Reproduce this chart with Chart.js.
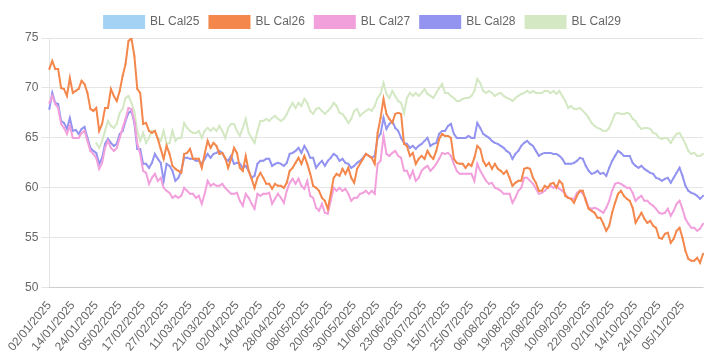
<!DOCTYPE html>
<html>
<head>
<meta charset="utf-8">
<title>BL Cal</title>
<script src="https://cdn.jsdelivr.net/npm/chart.js@4"></script>
<style>
  html, body { margin: 0; padding: 0; background: #fff; }
  #wrap { width: 718px; height: 360px; }
</style>
</head>
<body>
<div id="wrap"><canvas id="chart" width="718" height="360"></canvas></div>
<script>
const labels = (
  "02/01/2025 03/01/2025 06/01/2025 07/01/2025 08/01/2025 09/01/2025 10/01/2025 13/01/2025 14/01/2025 15/01/2025 " +
  "16/01/2025 17/01/2025 20/01/2025 21/01/2025 22/01/2025 23/01/2025 24/01/2025 27/01/2025 28/01/2025 29/01/2025 " +
  "30/01/2025 31/01/2025 03/02/2025 04/02/2025 05/02/2025 06/02/2025 07/02/2025 10/02/2025 11/02/2025 12/02/2025 " +
  "13/02/2025 14/02/2025 17/02/2025 18/02/2025 19/02/2025 20/02/2025 21/02/2025 24/02/2025 25/02/2025 26/02/2025 " +
  "27/02/2025 28/02/2025 03/03/2025 04/03/2025 05/03/2025 06/03/2025 07/03/2025 10/03/2025 11/03/2025 12/03/2025 " +
  "13/03/2025 14/03/2025 17/03/2025 18/03/2025 19/03/2025 20/03/2025 21/03/2025 24/03/2025 25/03/2025 26/03/2025 " +
  "27/03/2025 28/03/2025 31/03/2025 01/04/2025 02/04/2025 03/04/2025 04/04/2025 07/04/2025 08/04/2025 09/04/2025 " +
  "10/04/2025 11/04/2025 14/04/2025 15/04/2025 16/04/2025 17/04/2025 22/04/2025 23/04/2025 24/04/2025 25/04/2025 " +
  "28/04/2025 29/04/2025 30/04/2025 01/05/2025 02/05/2025 05/05/2025 06/05/2025 07/05/2025 08/05/2025 09/05/2025 " +
  "12/05/2025 13/05/2025 14/05/2025 15/05/2025 16/05/2025 19/05/2025 20/05/2025 21/05/2025 22/05/2025 23/05/2025 " +
  "26/05/2025 27/05/2025 28/05/2025 29/05/2025 30/05/2025 02/06/2025 03/06/2025 04/06/2025 05/06/2025 06/06/2025 " +
  "09/06/2025 10/06/2025 11/06/2025 12/06/2025 13/06/2025 16/06/2025 17/06/2025 18/06/2025 19/06/2025 20/06/2025 " +
  "23/06/2025 24/06/2025 25/06/2025 26/06/2025 27/06/2025 30/06/2025 01/07/2025 02/07/2025 03/07/2025 04/07/2025 " +
  "07/07/2025 08/07/2025 09/07/2025 10/07/2025 11/07/2025 14/07/2025 15/07/2025 16/07/2025 17/07/2025 18/07/2025 " +
  "21/07/2025 22/07/2025 23/07/2025 24/07/2025 25/07/2025 28/07/2025 29/07/2025 30/07/2025 31/07/2025 01/08/2025 " +
  "04/08/2025 05/08/2025 06/08/2025 07/08/2025 08/08/2025 11/08/2025 12/08/2025 13/08/2025 14/08/2025 18/08/2025 " +
  "19/08/2025 20/08/2025 21/08/2025 22/08/2025 25/08/2025 26/08/2025 27/08/2025 28/08/2025 29/08/2025 01/09/2025 " +
  "02/09/2025 03/09/2025 04/09/2025 05/09/2025 08/09/2025 09/09/2025 10/09/2025 11/09/2025 12/09/2025 15/09/2025 " +
  "16/09/2025 17/09/2025 18/09/2025 19/09/2025 22/09/2025 23/09/2025 24/09/2025 25/09/2025 26/09/2025 29/09/2025 " +
  "30/09/2025 01/10/2025 02/10/2025 03/10/2025 06/10/2025 07/10/2025 08/10/2025 09/10/2025 10/10/2025 13/10/2025 " +
  "14/10/2025 15/10/2025 16/10/2025 17/10/2025 20/10/2025 21/10/2025 22/10/2025 23/10/2025 24/10/2025 27/10/2025 " +
  "28/10/2025 29/10/2025 30/10/2025 31/10/2025 03/11/2025 04/11/2025 05/11/2025 06/11/2025 07/11/2025 10/11/2025 " +
  "11/11/2025 12/11/2025 13/11/2025 14/11/2025"
).split(" ");

// Cal25 has no prices in the period shown
const cal25 = [];

const cal26 = [
  71.9, 72.7, 71.9, 71.9, 70.0, 69.9, 69.2, 71.0, 69.5, 69.7,
  69.9, 70.7, 70.4, 69.5, 67.9, 67.7, 68.0, 65.7, 66.4, 68.0,
  68.0, 69.9, 69.2, 68.7, 69.7, 71.2, 72.4, 74.7, 75.0, 73.2,
  69.9, 69.5, 66.4, 66.5, 65.7, 65.5, 65.7, 64.9, 63.9, 62.9,
  64.2, 63.4, 62.2, 61.9, 61.7, 61.5, 63.4, 63.5, 63.9, 62.9,
  62.9, 62.9, 62.0, 63.4, 64.7, 64.0, 64.5, 64.2, 63.4, 63.5,
  63.0, 62.0, 62.9, 64.0, 63.5, 62.0, 61.7, 63.2, 61.7, 60.9,
  60.0, 61.0, 61.5, 61.0, 60.4, 60.4, 59.9, 60.4, 60.2, 60.2,
  60.0, 60.5, 61.7, 62.0, 62.5, 63.0, 62.4, 63.2, 62.4, 61.4,
  60.2, 60.0, 59.7, 59.0, 58.7, 57.9, 59.4, 61.0, 61.4, 61.2,
  61.9, 61.4, 62.0, 61.0, 60.5, 61.9, 62.4, 62.9, 63.4, 63.2,
  63.0, 62.4, 65.5, 67.0, 68.9, 67.4, 66.9, 66.5, 67.4, 67.5,
  67.4, 64.4, 64.2, 63.2, 63.5, 62.4, 62.9, 63.2, 62.9, 63.7,
  63.2, 62.9, 63.7, 64.9, 65.4, 65.2, 65.2, 65.0, 62.9, 62.5,
  62.4, 62.4, 62.0, 62.4, 62.2, 63.0, 64.2, 63.9, 62.7, 62.2,
  62.5, 61.9, 62.4, 61.9, 61.7, 61.4, 61.7, 61.0, 60.2, 60.5,
  60.7, 60.7, 61.9, 62.0, 61.9, 61.0, 60.5, 59.7, 59.7, 60.2,
  60.0, 60.4, 60.5, 60.0, 60.7, 60.4, 59.2, 59.0, 58.9, 58.5,
  59.2, 59.7, 59.7, 58.7, 57.9, 57.7, 57.5, 57.0, 57.0, 56.4,
  55.7, 56.2, 57.5, 58.5, 59.4, 59.7, 59.2, 58.9, 58.7, 58.0,
  56.5, 57.0, 57.5, 56.9, 56.5, 56.7, 56.2, 56.0, 55.0, 54.9,
  55.4, 55.5, 54.5, 54.9, 55.7, 56.0, 55.0, 53.7, 52.9, 52.7,
  52.7, 53.0, 52.5, 53.4,
];

const cal27 = [
  68.5, 69.2, 68.4, 68.0, 66.4, 66.0, 65.4, 66.2, 65.0, 65.0,
  65.0, 65.5, 65.7, 64.7, 63.7, 63.4, 63.0, 61.9, 62.5, 64.0,
  64.7, 64.0, 63.7, 64.0, 65.0, 66.0, 66.9, 68.0, 67.9, 66.7,
  64.4, 63.4, 61.7, 61.5, 60.4, 61.0, 61.4, 60.7, 61.0, 60.0,
  59.7, 59.5, 59.0, 59.2, 59.0, 59.2, 60.0, 59.7, 59.4, 59.4,
  59.0, 59.2, 58.4, 59.4, 60.7, 60.2, 60.4, 60.2, 60.2, 60.4,
  60.0, 59.7, 59.4, 59.4, 59.5, 58.7, 58.2, 59.4, 59.0, 58.4,
  57.9, 59.4, 59.2, 59.4, 59.4, 59.5, 58.4, 58.9, 59.4, 59.0,
  58.5, 59.7, 60.5, 60.9, 60.4, 60.9, 60.2, 59.9, 60.7, 59.2,
  59.0, 58.0, 57.7, 58.4, 57.5, 57.4, 58.7, 60.0, 59.7, 60.0,
  59.7, 59.9, 59.4, 58.7, 59.0, 59.0, 59.4, 59.5, 59.7, 59.4,
  59.7, 59.4, 62.4, 62.7, 65.2, 63.4, 63.2, 63.5, 63.7, 63.2,
  63.0, 61.7, 61.7, 61.0, 61.7, 60.7, 61.0, 61.7, 62.0, 62.2,
  61.7, 62.0, 62.4, 62.9, 63.5, 63.4, 63.5, 63.2, 62.4, 61.7,
  61.4, 61.4, 61.4, 61.4, 61.4, 60.7, 62.4, 61.7, 61.2, 60.7,
  60.4, 60.5, 60.0, 59.9, 59.7, 59.4, 59.4, 59.4, 58.5, 59.0,
  59.7, 60.0, 61.0, 61.0, 60.7, 60.4, 59.9, 59.4, 59.5, 59.7,
  60.0, 60.2, 60.0, 60.2, 59.9, 59.7, 59.4, 59.0, 58.9, 58.9,
  59.5, 59.7, 59.4, 58.9, 58.0, 57.9, 58.0, 57.9, 57.7, 57.5,
  58.0, 58.7, 59.7, 60.4, 60.5, 60.4, 60.2, 60.0, 60.0, 59.5,
  58.7, 59.0, 59.2, 58.7, 58.7, 58.4, 58.2, 57.9, 57.5, 57.4,
  57.5, 57.9, 57.2, 57.7, 58.4, 58.7, 57.9, 56.9, 56.4, 56.0,
  56.0, 55.7, 55.9, 56.4,
];

const cal28 = [
  67.9, 69.5, 68.5, 68.4, 66.7, 66.5, 65.9, 67.0, 65.7, 65.8,
  65.4, 65.9, 66.1, 65.0, 64.0, 63.7, 63.5, 62.4, 63.0, 64.4,
  64.9, 64.5, 64.2, 64.4, 65.4, 65.7, 66.7, 67.5, 67.7, 66.5,
  63.9, 63.9, 62.4, 62.4, 62.0, 62.5, 63.4, 62.9, 62.5, 60.7,
  62.4, 62.2, 61.7, 60.7, 61.0, 61.7, 63.0, 63.0, 62.9, 62.9,
  62.7, 62.7, 62.4, 62.9, 63.4, 63.0, 63.4, 63.5, 63.7, 63.5,
  62.9, 62.7, 63.2, 62.4, 62.5, 62.4, 62.0, 62.2, 61.7, 61.0,
  61.2, 62.4, 62.7, 62.7, 62.9, 62.9, 62.2, 62.4, 62.5, 62.4,
  62.2, 62.5, 63.4, 63.5, 63.7, 64.0, 63.5, 64.2, 63.7, 63.0,
  63.0, 62.0, 62.4, 62.7, 62.2, 62.7, 63.0, 63.4, 63.2, 62.7,
  62.9, 62.5, 62.4, 62.0, 62.2, 62.5, 62.7, 63.0, 63.4, 63.2,
  63.0, 63.2, 65.0, 65.4, 67.0, 65.9, 66.4, 66.7, 66.0, 65.7,
  65.0, 64.5, 64.4, 64.0, 64.2, 63.9, 64.2, 64.4, 64.7, 65.0,
  64.2, 64.4, 64.5, 65.4, 65.7, 65.7, 66.2, 66.4, 65.4, 65.0,
  65.0, 65.0, 65.0, 65.2, 65.0, 65.0, 66.5, 66.0, 65.4, 65.2,
  65.0, 64.7, 64.5, 64.4, 64.2, 64.0, 63.7, 63.5, 62.9, 63.4,
  63.7, 64.2, 64.5, 64.7, 64.4, 64.2, 63.7, 63.2, 63.4, 63.5,
  63.5, 63.5, 63.4, 63.4, 63.2, 62.9, 62.4, 62.4, 62.4, 62.5,
  62.7, 63.0, 62.9, 62.2, 61.7, 61.4, 61.5, 61.7, 61.4, 61.5,
  61.2, 62.0, 62.7, 63.2, 63.7, 63.5, 63.2, 63.2, 63.2, 62.5,
  62.2, 62.0, 62.2, 61.9, 61.7, 61.5, 61.4, 61.0, 60.9, 60.7,
  60.9, 61.0, 60.5, 61.0, 61.5, 62.0, 61.2, 60.2, 59.7, 59.5,
  59.4, 59.2, 58.9, 59.2,
];

// Cal29 starts trading on 24/01/2025
const cal29 = [
  null, null, null, null, null, null, null, null, null, null,
  null, null, null, null, null, null, 64.5, 64.0, 64.7, 65.7,
  66.7, 66.2, 66.0, 66.4, 67.5, 67.9, 69.0, 69.2, 68.5, 67.7,
  65.7, 64.7, 65.5, 64.5, 65.0, 65.7, 65.7, 65.0, 64.7, 65.7,
  64.4, 64.5, 65.7, 64.7, 65.0, 65.0, 66.5, 66.0, 65.7, 65.5,
  65.5, 65.7, 65.0, 65.7, 66.0, 65.7, 66.0, 65.7, 66.2, 65.7,
  65.0, 66.0, 66.4, 66.4, 65.7, 65.2, 66.0, 66.9, 65.5, 65.0,
  64.5, 65.7, 66.7, 66.7, 66.9, 66.7, 67.0, 67.2, 66.9, 66.7,
  66.9, 67.4, 68.0, 68.5, 68.0, 68.5, 68.2, 68.9, 68.5, 67.7,
  67.4, 67.9, 68.0, 67.7, 67.4, 67.7, 68.0, 68.5, 68.2, 67.5,
  67.4, 67.0, 66.5, 66.9, 67.7, 67.9, 67.2, 67.5, 67.7, 67.9,
  67.7, 68.2, 69.0, 69.4, 70.5, 69.4, 69.0, 69.7, 69.2, 68.7,
  68.5, 67.5, 69.0, 69.5, 69.2, 69.5, 69.2, 69.5, 69.9, 69.4,
  69.2, 69.0, 69.5, 70.0, 70.4, 69.5, 69.5, 69.2, 69.0, 68.7,
  68.7, 68.9, 69.0, 69.0, 69.2, 69.7, 70.9, 70.5, 69.7, 69.5,
  69.7, 69.5, 69.2, 69.4, 69.5, 69.2, 69.0, 68.9, 68.7, 69.0,
  69.2, 69.4, 69.5, 69.7, 69.5, 69.7, 69.5, 69.5, 69.5, 69.7,
  69.7, 69.5, 69.7, 69.4, 69.7, 69.2, 68.7, 68.0, 68.2, 67.9,
  67.9, 68.0, 67.7, 67.4, 67.0, 66.5, 66.2, 66.0, 65.9, 65.7,
  65.7, 66.0, 66.7, 67.4, 67.5, 67.4, 67.4, 67.5, 67.4, 66.9,
  66.7, 66.2, 65.9, 66.0, 66.0, 65.9, 65.5, 65.4, 65.0, 64.9,
  65.0, 64.9, 64.5, 65.0, 65.4, 65.5, 65.0, 64.4, 63.7, 63.4,
  63.5, 63.2, 63.2, 63.4,
];

const seriesNames = ["BL Cal25", "BL Cal26", "BL Cal27", "BL Cal28", "BL Cal29"];
const seriesColors = ["#a3d2f5", "#f4874b", "#f2a0dc", "#9394f0", "#d3e8c3"];

(() => {
  const ctx = document.getElementById("chart");
  const values = [cal25, cal26, cal27, cal28, cal29];

  const datasets = values.map((data, i) => ({
    label: seriesNames[i],
    data: data,
    borderColor: seriesColors[i],
    backgroundColor: seriesColors[i],
    borderWidth: 2,
    pointRadius: 1,
    pointHoverRadius: 3,
    pointBorderWidth: 0,
    tension: 0,
    fill: false,
  }));

  new Chart(ctx, {
    type: "line",
    data: {
      labels: labels,
      datasets: datasets,
    },
    options: {
      responsive: false,
      animation: false,
      layout: {
        padding: { top: 6, left: 22, right: 15, bottom: 3 },
      },
      plugins: {
        legend: {
          position: "top",
          labels: {
            color: "#666",
            font: { size: 12 },
          },
        },
        tooltip: { enabled: false },
      },
      scales: {
        x: {
          grid: { display: false },
          ticks: { color: "#666", font: { size: 12 } },
        },
        y: {
          min: 50,
          max: 75,
          ticks: { stepSize: 5, color: "#666", font: { size: 12 } },
        },
      },
    },
  });
})();
</script>
</body>
</html>
